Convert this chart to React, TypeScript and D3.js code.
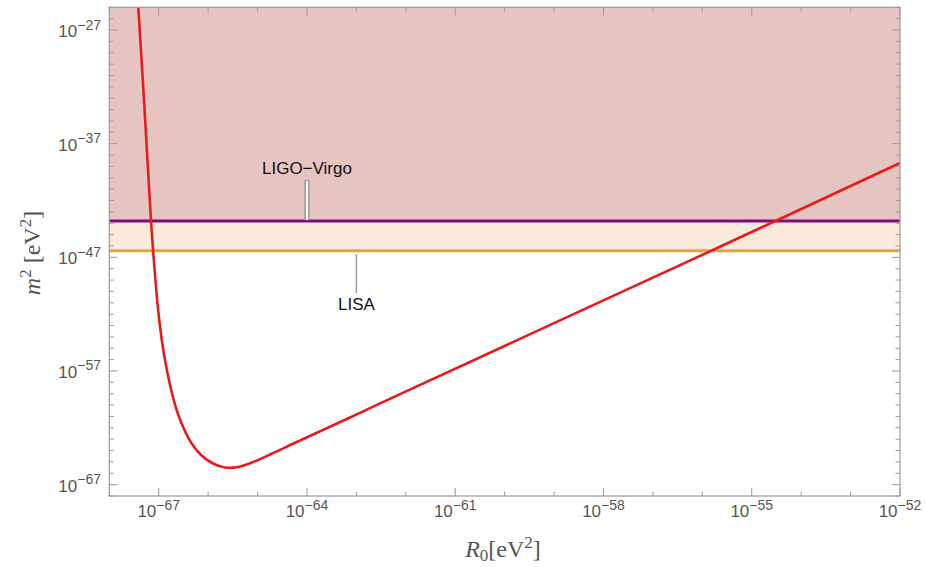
import React from 'react';
import * as d3 from 'd3';

// curve (R0 in eV^2, m^2 in eV^2)
const r0Values = [
  3.67e-68, 5.04e-68, 6.98e-68, 8.02e-68, 9.23e-68, 1.06e-67, 1.22e-67, 1.40e-67,
  1.77e-67, 2.34e-67, 3.25e-67, 4.72e-67, 7.17e-67, 1.20e-66, 2.19e-66, 4.02e-66,
  7.72e-66, 1.79e-65, 7.23e-65, 7.43e-64, 3.01e-63, 1.64e-56, 1.0e-52,
];
const m2Values = [
  3.3e-24, 6.97e-34, 1.67e-44, 3.88e-48, 2.64e-51, 9.08e-54, 1.05e-55, 3.36e-57,
  2.59e-59, 3.01e-61, 7.85e-63, 3.76e-64, 4.05e-65, 8.0e-66, 3.21e-66, 3.56e-66,
  8.85e-66, 4.48e-65, 7.64e-64, 8.07e-62, 1.43e-60, 4.42e-47, 2.0e-39,
];

const ligoBound = 1.6e-44;
const lisaBound = 3.7e-47;
const ligoLabelAt = 1e-64;
const lisaLabelAt = 1e-63;

const xDomainExp = [-68, -52];
const yDomainExp = [-68, -25];
const xLabelExps = [-67, -64, -61, -58, -55, -52];
const yLabelExps = [-67, -57, -47, -37, -27];

const W = 925;
const H = 567;
const left = 109.3;
const right = 900;
const top = 7.3;
const bottom = 496;

const gray = '#9a9a9a';
const labelGray = '#555';
const sans = 'Liberation Sans, Arial, sans-serif';
const serif = 'Liberation Serif, Times New Roman, serif';

export default function App() {
  const x = d3.scaleLog().domain([10 ** xDomainExp[0], 10 ** xDomainExp[1]]).range([left, right]);
  const y = d3.scaleLog().domain([10 ** yDomainExp[0], 10 ** yDomainExp[1]]).range([bottom, top]);

  const pts: [number, number][] = r0Values.map((r, i) => [x(r), y(m2Values[i])]);
  const line = d3.line().curve(d3.curveCatmullRom.alpha(0.5));
  const curvePath = line(pts) || '';

  const xMinor = d3.range(xDomainExp[0], xDomainExp[1] + 1);
  const yMinor = d3.range(yDomainExp[0], yDomainExp[1] + 1);

  const yLigo = y(ligoBound);
  const yLisa = y(lisaBound);

  return (
    <svg width={W} height={H} style={{ position: 'absolute', left: 0, top: 0, background: '#fff' }}>
      <defs>
        <clipPath id="plot">
          <rect x={left} y={top} width={right - left} height={bottom - top} />
        </clipPath>
      </defs>

      {/* excluded regions */}
      <rect x={left} y={top} width={right - left} height={yLigo - top} fill="#e6c4c1" />
      <rect x={left} y={yLigo} width={right - left} height={yLisa - yLigo} fill="#faeadb" />

      <line x1={left} x2={right} y1={yLigo} y2={yLigo} stroke="#800a80" strokeWidth={3} />
      <line x1={left} x2={right} y1={yLisa} y2={yLisa} stroke="#e8a23c" strokeWidth={3} />

      <path d={curvePath} fill="none" stroke="#e61c1c" strokeWidth={2.6} clipPath="url(#plot)" strokeLinejoin="round" />

      {/* callouts */}
      <line x1={x(ligoLabelAt)} x2={x(ligoLabelAt)} y1={180} y2={yLigo - 1} stroke="#9a9a9a" strokeWidth={5} />
      <line x1={x(ligoLabelAt)} x2={x(ligoLabelAt)} y1={181} y2={yLigo - 1} stroke="#fff" strokeWidth={2} />
      <text x={x(ligoLabelAt)} y={174} textAnchor="middle" fontFamily={sans} fontSize={17} fill="#111">
        LIGO−Virgo
      </text>
      <line x1={x(lisaLabelAt)} x2={x(lisaLabelAt)} y1={yLisa + 3} y2={293} stroke="#a0a0a0" strokeWidth={1.6} />
      <text x={x(lisaLabelAt)} y={310} textAnchor="middle" fontFamily={sans} fontSize={17} fill="#111">
        LISA
      </text>

      {/* frame */}
      <rect x={left} y={top} width={right - left} height={bottom - top} fill="none" stroke={gray} strokeWidth={1.2} />

      {/* ticks on all four sides */}
      {xMinor.map((e) => {
        const len = xLabelExps.includes(e) ? 8 : 4.5;
        const px = x(10 ** e);
        return (
          <g key={'xt' + e}>
            <line x1={px} x2={px} y1={bottom} y2={bottom - len} stroke={gray} strokeWidth={1} />
            <line x1={px} x2={px} y1={top} y2={top + len} stroke={gray} strokeWidth={1} />
          </g>
        );
      })}
      {yMinor.map((e) => {
        const len = yLabelExps.includes(e) ? 8 : 4.5;
        const py = y(10 ** e);
        return (
          <g key={'yt' + e}>
            <line x1={left} x2={left + len} y1={py} y2={py} stroke={gray} strokeWidth={1} />
            <line x1={right} x2={right - len} y1={py} y2={py} stroke={gray} strokeWidth={1} />
          </g>
        );
      })}

      {/* tick labels */}
      {xLabelExps.map((e) => (
        <text key={'xl' + e} x={x(10 ** e)} y={517} textAnchor="middle" fontFamily={sans} fontSize={17} fill={labelGray}>
          <tspan>10</tspan>
          <tspan dy={-7.5} fontSize={14}>{'−' + Math.abs(e)}</tspan>
        </text>
      ))}
      {yLabelExps.map((e) => (
        <text key={'yl' + e} x={101} y={y(10 ** e) + 7} textAnchor="end" fontFamily={sans} fontSize={17} fill={labelGray}>
          <tspan>10</tspan>
          <tspan dy={-7.5} fontSize={14}>{'−' + Math.abs(e)}</tspan>
        </text>
      ))}

      {/* axis titles */}
      <text x={503} y={557} textAnchor="middle" fontFamily={serif} fontSize={24} fill={labelGray}>
        <tspan fontStyle="italic">R</tspan>
        <tspan dy={4} fontSize={17}>0</tspan>
        <tspan dy={-4}>[eV</tspan>
        <tspan dy={-9} fontSize={17}>2</tspan>
        <tspan dy={9}>]</tspan>
      </text>
      <text transform={`translate(40,253) rotate(-90)`} textAnchor="middle" fontFamily={serif} fontSize={24} fill={labelGray}>
        <tspan fontStyle="italic">m</tspan>
        <tspan dy={-9} fontSize={17}>2</tspan>
        <tspan dy={9}> [eV</tspan>
        <tspan dy={-9} fontSize={17}>2</tspan>
        <tspan dy={9}>]</tspan>
      </text>
    </svg>
  );
}
